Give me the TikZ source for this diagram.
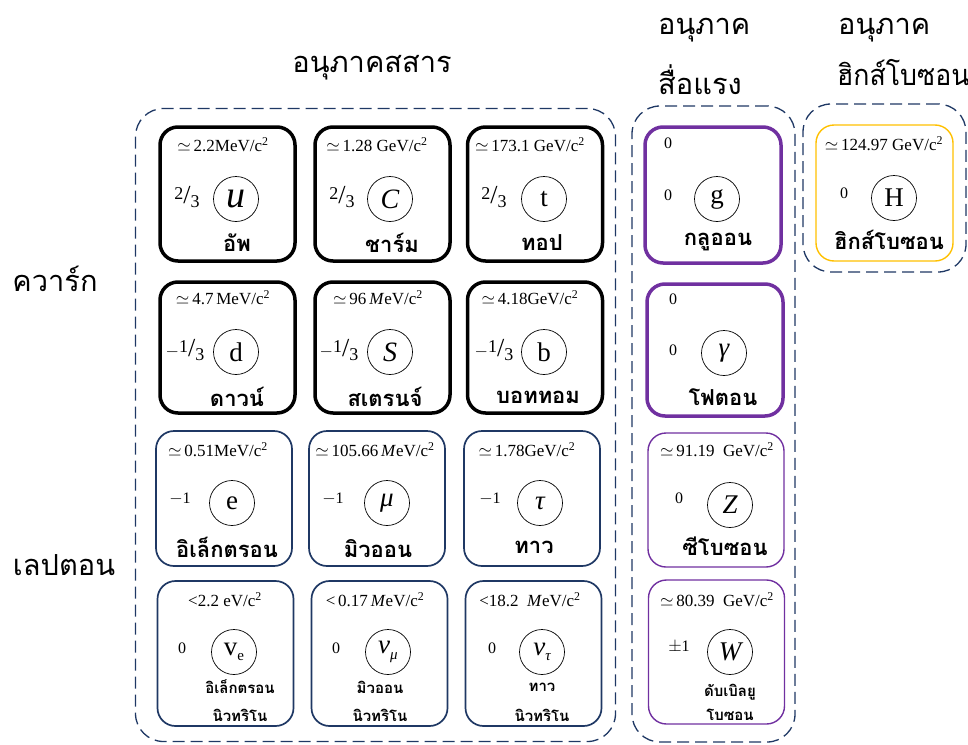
\documentclass[tikz,border=0pt]{standalone}
\usepackage{fontspec}
\setmainfont{Liberation Serif}
\newfontfamily\thai[Script=Thai]{Loma}
\newfontfamily\thaicond[Script=Thai,FakeStretch=0.92]{Loma}
\definecolor{navy}{RGB}{31,56,100}
\definecolor{purp}{RGB}{112,48,160}
\definecolor{hyel}{RGB}{255,192,0}
\newcommand\fr[2]{{\fontsize{18}{18}\selectfont\raisebox{0.55ex}{#1}{\fontsize{26}{26}\selectfont/}\raisebox{-0.45ex}{#2}}}
\newcommand\csq{/c\textsuperscript{2}}
\newcommand\sbs[1]{\raisebox{-0.45ex}{\fontsize{15}{15}\selectfont #1}}
\begin{document}
\begin{tikzpicture}[x=1pt,y=-1pt,
  bx/.style={inner sep=0pt,rounded corners=18pt},
  quark/.style={bx,draw=black,line width=3.5pt,minimum width=135pt},
  lepton/.style={bx,draw=navy,line width=1.7pt,minimum width=136pt},
  gthick/.style={bx,draw=purp,line width=3.5pt,minimum width=136pt},
  gthin/.style={bx,draw=purp,line width=1.4pt,minimum width=136pt},
  higgsbox/.style={bx,draw=hyel,line width=1.4pt,minimum width=137pt,minimum height=136pt},
  group/.style={draw=navy,line width=1.3pt,dash pattern=on 12pt off 6pt,rounded corners=28pt,inner sep=0pt},
  mass/.style={inner sep=0pt,font=\fontsize{17}{17}\selectfont},
  chg/.style={inner sep=0pt,font=\fontsize{16}{16}\selectfont},
  sym/.style={circle,draw,line width=0.7pt,minimum size=45pt,inner sep=0pt,font=\fontsize{27}{27}\selectfont},
  pname/.style={inner sep=0pt,font=\thai\bfseries\fontsize{22}{22}\selectfont},
  sname/.style={inner sep=0pt,font=\thai\bfseries\fontsize{15}{15}\selectfont},
  title/.style={inner sep=0pt,font=\thai\fontsize{29}{29}\selectfont}
]
\useasboundingbox (0,0) rectangle (968,744);
% groups
\node[group,minimum width=480pt,minimum height=633pt] (matter) at (375.5,425) {};
\node[group,minimum width=163pt,minimum height=636pt] (force) at (713.5,424) {};
\node[group,minimum width=163pt,minimum height=168pt] (higgsgrp) at (884.5,188) {};
% titles
\node[title] (tmatter) at (372,68) {อนุภาคสสาร};
\node[title,anchor=west] (tforce1) at (658,30) {อนุภาค};
\node[title,anchor=west] (tforce2) at (658,80) {สื่อแรง};
\node[title,anchor=west] (thiggs1) at (838,30) {อนุภาค};
\node[title,anchor=west,font=\thaicond\fontsize{29}{29}\selectfont] (thiggs2) at (837,73) {ฮิกส์โบซอน};
\node[title] (tquark) at (55,279) {ควาร์ก};
\node[title] (tlepton) at (64,565) {เลปตอน};
% ---- quarks row 1
\node[quark,minimum height=134pt] (bu) at (227.5,194) {};
\node[mass] (mu1) at (223,145) {$\simeq$\,2.2MeV\csq};
\node[chg] (qu) at (187,197) {\fr{2}{3}};
\node[sym,font=\fontsize{38}{38}\selectfont\itshape] (su) at (236,199) {u};
\node[pname] (nu) at (237,243) {อัพ};
\node[quark,minimum height=134pt] (bc) at (382.5,194) {};
\node[mass] (mc) at (377,145) {$\simeq$\,1.28 GeV\csq};
\node[chg] (qc) at (342,197) {\fr{2}{3}};
\node[sym,font=\fontsize{28}{28}\selectfont\itshape] (sc) at (390,199) {C};
\node[pname] (nc) at (392,243) {ชาร์ม};
\node[quark,minimum height=134pt] (bt) at (535,194) {};
\node[mass] (mt) at (530,145) {$\simeq$\,173.1 GeV\csq};
\node[chg] (qt) at (494,197) {\fr{2}{3}};
\node[sym] (st) at (544,199) {t};
\node[pname] (nt) at (542,243) {ทอป};
% ---- quarks row 2
\node[quark,minimum height=131pt] (bd) at (227.5,347.5) {};
\node[mass] (md) at (223,298) {$\simeq$\,4.7\,MeV\csq};
\node[chg] (qd) at (185,350) {$-$\fr{1}{3}};
\node[sym] (sd) at (236,352) {d};
\node[pname] (nd) at (237,397) {ดาวน์};
\node[quark,minimum height=131pt] (bs) at (382.5,347.5) {};
\node[mass] (ms) at (378,298) {$\simeq$\,96\,\textit{M}eV\csq};
\node[chg] (qs) at (339,350) {$-$\fr{1}{3}};
\node[sym,font=\fontsize{28}{28}\selectfont\itshape] (ss) at (390,352) {S};
\node[pname] (ns) at (385,397) {สเตรนจ์};
\node[quark,minimum height=131pt] (bb) at (535,347.5) {};
\node[mass] (mb) at (530,298) {$\simeq$\,4.18GeV\csq};
\node[chg] (qb) at (494,350) {$-$\fr{1}{3}};
\node[sym] (sb) at (544,352) {b};
\node[pname] (nb) at (538,397) {บอททอม};
% ---- leptons row 1
\node[lepton,minimum height=135pt] (be) at (224,498.5) {};
\node[mass] (me) at (218,450) {$\simeq$\,0.51MeV\csq};
\node[chg] (qe) at (180,499) {$-$1};
\node[sym] (se) at (232,503) {e};
\node[pname] (ne) at (227,547) {อิเล็กตรอน};
\node[lepton,minimum height=135pt] (bmu) at (377,498.5) {};
\node[mass] (mmu) at (375,450) {$\simeq$\,105.66\,\textit{M}eV\csq};
\node[chg] (qmu) at (333,499) {$-$1};
\node[sym,font=\fontsize{27}{27}\selectfont\itshape] (smu) at (387,503) {μ};
\node[pname] (nmu) at (378,549) {มิวออน};
\node[lepton,minimum height=135pt] (btau) at (532,498.5) {};
\node[mass] (mtau) at (527,450) {$\simeq$\,1.78GeV\csq};
\node[chg] (qtau) at (490,499) {$-$1};
\node[sym,font=\fontsize{27}{27}\selectfont\itshape] (stau) at (540,503) {τ};
\node[pname] (ntau) at (534,547) {ทาว};
% ---- leptons row 2
\node[lepton,minimum height=145pt] (bve) at (225.5,653.5) {};
\node[mass] (mve) at (225,600) {<2.2 eV\csq};
\node[chg] (qve) at (182,648) {0};
\node[sym] (sve) at (234,652) {v\sbs{e}};
\node[sname] (nve1) at (240,687) {อิเล็กตรอน};
\node[sname] (nve2) at (240,715) {นิวทริโน};
\node[lepton,minimum height=145pt] (bvmu) at (379.5,653.5) {};
\node[mass] (mvmu) at (375,600) {<\,0.17\,\textit{M}eV\csq};
\node[chg] (qvmu) at (336,648) {0};
\node[sym,font=\fontsize{27}{27}\selectfont\itshape] (svmu) at (388,652) {ν\sbs{\itshape μ}};
\node[sname] (nvmu1) at (380,687) {มิวออน};
\node[sname] (nvmu2) at (380,715) {นิวทริโน};
\node[lepton,minimum height=145pt] (bvtau) at (533.5,653.5) {};
\node[mass] (mvtau) at (530,600) {<18.2\ \ \textit{M}eV\csq};
\node[chg] (qvtau) at (492,648) {0};
\node[sym,font=\fontsize{27}{27}\selectfont\itshape] (svtau) at (542,652) {ν\sbs{\itshape τ}};
\node[sname] (nvtau1) at (542,687) {ทาว};
\node[sname] (nvtau2) at (542,715) {นิวทริโน};
% ---- force carriers
\node[gthick,minimum height=136pt] (bg) at (713,195) {};
\node[chg] (mg) at (668,143) {0};
\node[chg] (qg) at (668,195) {0};
\node[sym] (sg) at (717,199) {g};
\node[pname] (ng) at (718,242) {กลูออน};
\node[gthick,minimum height=132pt] (bgam) at (715,350) {};
\node[chg] (mgam) at (673,299) {0};
\node[chg] (qgam) at (673,350) {0};
\node[sym,font=\fontsize{27}{27}\selectfont\itshape] (sgam) at (724,353) {γ};
\node[pname] (ngam) at (723,397) {โฟตอน};
\node[gthin,minimum height=134pt] (bz) at (716,500) {};
\node[mass] (mz) at (717,450) {$\simeq$\,91.19\ \ GeV\csq};
\node[chg] (qz) at (679,498) {0};
\node[sym,font=\fontsize{27}{27}\selectfont\itshape] (sz) at (730,505) {Z};
\node[pname] (nz) at (725,546) {ซีโบซอน};
\node[gthin,minimum height=144pt] (bw) at (716.5,652) {};
\node[mass] (mw) at (717,600) {$\simeq$\,80.39\ \ GeV\csq};
\node[chg] (qw) at (679,647) {$\pm$1};
\node[sym,font=\fontsize{27}{27}\selectfont\itshape] (sw) at (730,652) {W};
\node[sname] (nw1) at (730,692) {ดับเบิลยู};
\node[sname] (nw2) at (730,715) {โบซอน};
% ---- higgs
\node[higgsbox] (bh) at (884.5,193) {};
\node[mass] (mh) at (884,144) {$\simeq$\,124.97 GeV\csq};
\node[chg] (qh) at (844,193) {0};
\node[sym] (sh) at (894,198) {H};
\node[pname] (nh) at (889,240) {ฮิกส์โบซอน};
\end{tikzpicture}
\end{document}
